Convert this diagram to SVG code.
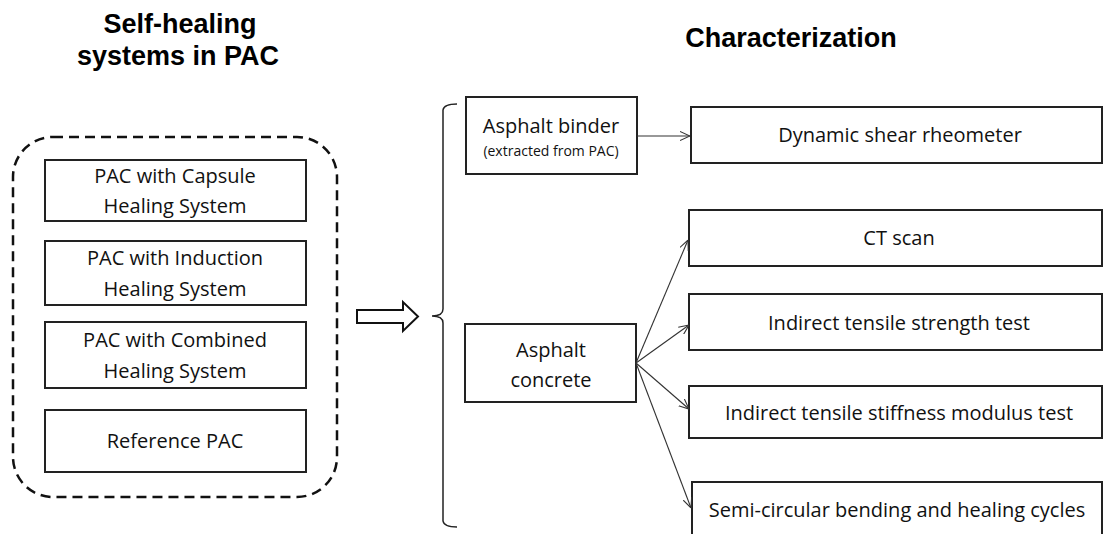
<svg xmlns="http://www.w3.org/2000/svg" width="1104" height="534" viewBox="0 0 1104 534">
<style>
.title{font-family:"Liberation Sans",Arial,sans-serif;font-weight:bold;font-size:27px;fill:#000;text-anchor:middle}
.t{font-family:"Open Sans","Noto Sans",sans-serif;font-size:20px;fill:#111;text-anchor:middle}
.s{font-family:"Open Sans","Noto Sans",sans-serif;font-size:14px;fill:#111;text-anchor:middle}
.box{fill:#fff;stroke:#222;stroke-width:2}
.con{fill:none;stroke:#333;stroke-width:1.1}
</style>
<defs>
<marker id="ah" viewBox="0 0 10 10" refX="10" refY="5" markerWidth="10" markerHeight="10" markerUnits="userSpaceOnUse" orient="auto">
<path d="M0,0.5 L10,5 L0,9.5" fill="none" stroke="#333" stroke-width="1.1"/>
</marker>
</defs>
<rect width="1104" height="534" fill="#fff"/>
<text class="title" x="180" y="33">Self-healing</text>
<text class="title" x="178" y="65">systems in PAC</text>
<text class="title" x="791" y="47">Characterization</text>

<g id="group-left">
<rect x="13" y="137" width="324" height="360" rx="40" ry="40" fill="none" stroke="#111" stroke-width="2.5" stroke-dasharray="10,6"/>
</g>
<g id="n-capsule"><rect class="box" x="45" y="160" width="261" height="61"/><text class="t" x="175" y="183">PAC with Capsule</text><text class="t" x="175" y="213">Healing System</text></g>
<g id="n-induction"><rect class="box" x="45" y="241" width="261" height="64"/><text class="t" x="175" y="265">PAC with Induction</text><text class="t" x="175" y="296">Healing System</text></g>
<g id="n-combined"><rect class="box" x="45" y="322" width="261" height="66"/><text class="t" x="175" y="347">PAC with Combined</text><text class="t" x="175" y="378">Healing System</text></g>
<g id="n-reference"><rect class="box" x="45" y="410" width="261" height="62"/><text class="t" x="175" y="448">Reference PAC</text></g>

<g id="big-arrow"><path d="M357,310 H403 V302 L418,316.5 L403,331 V323 H357 Z" fill="#fff" stroke="#111" stroke-width="2"/></g>
<g id="brace"><path d="M457,104 Q444,104 443,110 V309 Q443,316 432,316 Q443,316 443,323 V521 Q444,527 457,527" fill="none" stroke="#222" stroke-width="1.5"/></g>

<g id="n-binder"><rect class="box" x="466" y="97" width="171" height="77"/><text class="t" x="551" y="133">Asphalt binder</text><text class="s" x="551" y="156">(extracted from PAC)</text></g>
<g id="n-concrete"><rect class="box" x="465" y="324" width="171" height="78"/><text class="t" x="551" y="357">Asphalt</text><text class="t" x="551" y="387">concrete</text></g>

<g id="n-dsr"><rect class="box" x="691" y="107" width="411" height="56"/><text class="t" x="900" y="142">Dynamic shear rheometer</text></g>
<g id="n-ct"><rect class="box" x="689" y="210" width="413" height="56"/><text class="t" x="899" y="245">CT scan</text></g>
<g id="n-its"><rect class="box" x="689" y="294" width="413" height="56"/><text class="t" x="899" y="330">Indirect tensile strength test</text></g>
<g id="n-itsm"><rect class="box" x="689" y="386" width="413" height="52"/><text class="t" x="899" y="420">Indirect tensile stiffness modulus test</text></g>
<g id="n-scb"><rect class="box" x="692" y="482" width="410" height="60"/><text class="t" x="897" y="517">Semi-circular bending and healing cycles</text></g>

<g id="connectors">
<line class="con" x1="637" y1="136" x2="690" y2="136" marker-end="url(#ah)"/>
<line class="con" x1="636" y1="363" x2="688" y2="240" marker-end="url(#ah)"/>
<line class="con" x1="636" y1="363" x2="689" y2="325" marker-end="url(#ah)"/>
<line class="con" x1="636" y1="363" x2="689" y2="409" marker-end="url(#ah)"/>
<line class="con" x1="636" y1="363" x2="691" y2="508" marker-end="url(#ah)"/>
</g>
</svg>
